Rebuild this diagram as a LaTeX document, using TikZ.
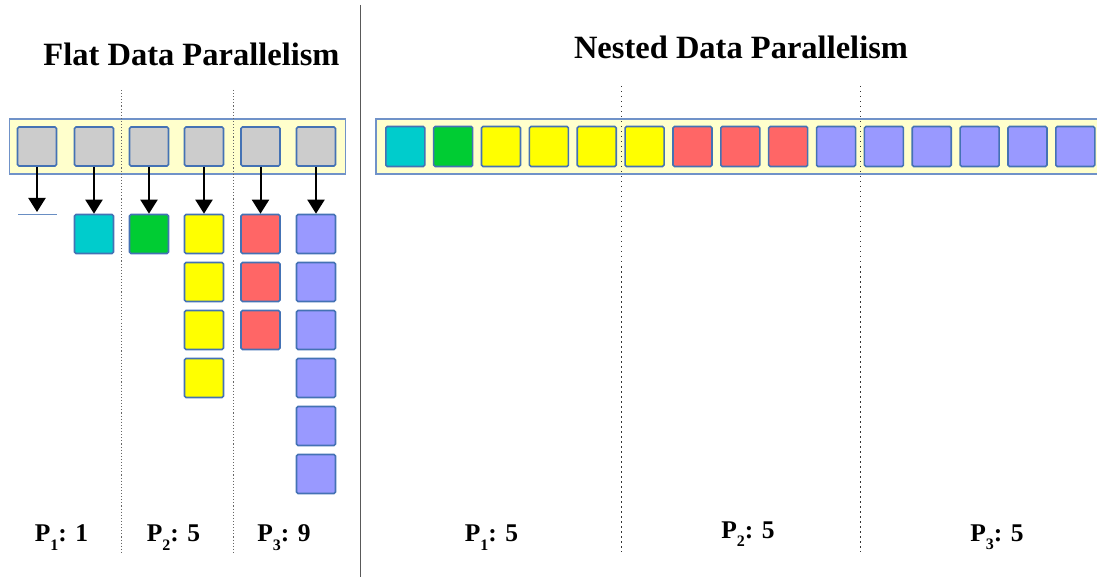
\documentclass[tikz,border=0pt]{standalone}
\usepackage{fontspec}
\setmainfont{Liberation Serif}
\usetikzlibrary{arrows.meta}
\definecolor{cellborder}{HTML}{4472B4}
\definecolor{barfill}{HTML}{FFFFCC}
\definecolor{barborder}{HTML}{7092C8}
\definecolor{cgray}{HTML}{CCCCCC}
\definecolor{ccyan}{HTML}{00CCCC}
\definecolor{cgreen}{HTML}{00CC33}
\definecolor{cyellow}{HTML}{FFFF00}
\definecolor{cred}{HTML}{FF6666}
\definecolor{cblue}{HTML}{9999FF}
\newcommand\procsub[1]{\raisebox{-0.34em}{\fontsize{16}{16}\selectfont #1}}
\tikzset{
  cell/.style={draw=cellborder, line width=1.6pt, rounded corners=1.5pt,
    minimum width=39pt, minimum height=39pt, inner sep=0pt, fill=#1},
  tallcell/.style={cell=#1, minimum height=40pt},
  bar/.style={draw=barborder, line width=1.2pt, fill=barfill},
  gridline/.style={draw=gray!80!black, dotted, line width=1.1pt},
  gridlineB/.style={draw=black!80, dash pattern=on 1.5pt off 3.5pt, line width=1.1pt},
  feed/.style={line width=2pt, -{Triangle[width=17pt,length=14pt]}},
  title/.style={font=\fontsize{32.5}{36}\selectfont\bfseries, inner sep=0pt, anchor=base},
  plabel/.style={font=\fontsize{25.5}{30}\selectfont\bfseries, inner sep=0pt, anchor=base}
}
\begin{document}
\begin{tikzpicture}[x=1pt, y=-1pt]
\useasboundingbox (0,0) rectangle (1097,577);

% divider between the two halves
\draw[line width=1.5pt, black!65] (360.7,5) -- (360.7,577);

% titles
\node[title] (tflat) at (191.5,65.7) {Flat Data Parallelism};
\node[title] (tnest) at (741,58.3) {Nested Data Parallelism};

% ---------- flat half ----------
\draw[bar] (9.5,119) rectangle (345.5,174);
\foreach \i/\x in {1/37, 2/94, 3/149, 4/204, 5/260.5, 6/316}
  \node[cell=cgray] (g\i) at (\x,146.5) {};

% results hanging under each element
\coordinate (e1) at (37,212);
\draw[cellborder!80, line width=1.2pt] (18,214.5) -- (57,214.5);
\node[cell=ccyan]   (c2)  at (94,234) {};
\node[cell=cgreen]  (c3)  at (149,234) {};
\foreach \k in {1,...,4}
  \node[cell=cyellow] (c4-\k) at (204,{234+48*(\k-1)}) {};
\foreach \k in {1,...,3}
  \node[cell=cred]    (c5-\k) at (260.5,{234+48*(\k-1)}) {};
\foreach \k in {1,...,6}
  \node[cell=cblue]   (c6-\k) at (316,{234+48*(\k-1)}) {};

\draw[feed] (g1) -- (e1);
\draw[feed] (g2) -- (c2);
\draw[feed] (g3) -- (c3);
\draw[feed] (g4) -- (c4-1);
\draw[feed] (g5) -- (c5-1);
\draw[feed] (g6) -- (c6-1);

\draw[gridline] (121.7,90) -- (121.7,552);
\draw[gridline] (233.7,90) -- (233.7,552);

\node[plabel] (pf1) at (61.5,541.7) {P\procsub{1}: 1};
\node[plabel] (pf2) at (173.5,541.7) {P\procsub{2}: 5};
\node[plabel] (pf3) at (284,541.7) {P\procsub{3}: 9};

% ---------- nested half ----------
\draw[bar] (376,119) rectangle (1110,174);
\foreach \i/\c in {0/ccyan, 1/cgreen, 2/cyellow, 3/cyellow, 4/cyellow, 5/cyellow,
                   6/cred, 7/cred, 8/cred, 9/cblue, 10/cblue, 11/cblue,
                   12/cblue, 13/cblue, 14/cblue}
  \node[tallcell=\c] (n\i) at ({405.3+47.86*\i},146.5) {};

\draw[gridlineB] (621.3,86) -- (621.3,552);
\draw[gridlineB] (860.5,86) -- (860.5,552);

\node[plabel] (pn1) at (491.5,541.7) {P\procsub{1}: 5};
\node[plabel] (pn2) at (748,538) {P\procsub{2}: 5};
\node[plabel] (pn3) at (997,541) {P\procsub{3}: 5};
\end{tikzpicture}
\end{document}
